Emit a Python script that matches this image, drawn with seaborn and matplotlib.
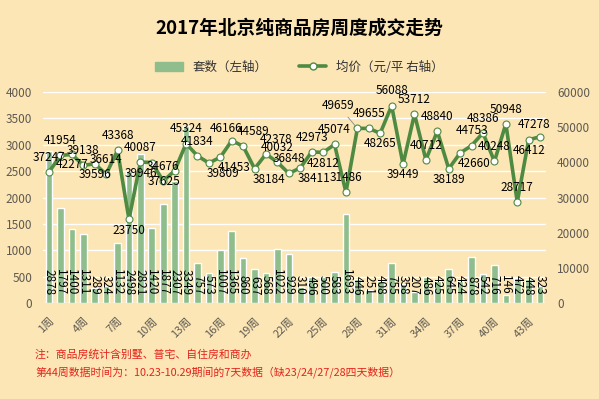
import numpy as np
import pandas as pd
import seaborn as sns
import matplotlib.pyplot as plt
from matplotlib.patches import Patch
from matplotlib.lines import Line2D

# weekly data
weeks = [f"{i}周" for i in range(1, 45)]
units = [2878, 1797, 1400, 1311, 289, 324, 1132, 2498, 2821, 1420,
         1877, 2307, 3349, 757, 573, 1007, 1365, 860, 637, 568,
         1022, 929, 310, 496, 500, 583, 1693, 446, 251, 408,
         755, 358, 207, 486, 425, 645, 424, 878, 542, 716,
         146, 472, 448, 323]
prices = [37247, 41954, 42277, 39138, 39596, 36614, 43368, 23750, 40087, 39946,
          34676, 37625, 45324, 41834, 39809, 41453, 46166, 44589, 38184, 42378,
          40032, 36848, 38411, 42973, 42812, 45074, 31486, 49659, 49655, 48265,
          56088, 39449, 53712, 40712, 48840, 38189, 42660, 44753, 48386, 40248,
          50948, 28717, 46412, 47278]

# where each price label sits relative to its point (style only)
# a above, b below, A above-left, R above-right, B below-left, C below-right, L leader
label_side = ("aababaabaB" "aBaaCCARCR" "aaCabaaLab" "abaaabCaaa" "aabA")

BG = "#FCE6B5"
BAR = "#8FBE8C"
LINE = "#4F8A42"
GRAY = "#5E5A52"
RED = "#E3231B"

sns.set_theme(style="white")
plt.rcParams["font.family"] = ["Noto Sans CJK SC", "DejaVu Sans"]
plt.rcParams["axes.unicode_minus"] = False

df = pd.DataFrame({"week": weeks, "units": units, "price": prices})

fig = plt.figure(figsize=(5.99, 3.99), dpi=100, facecolor=BG)
ax = fig.add_axes([0.0723, 0.2406, 0.8389, 0.5288])
ax.set_facecolor(BG)

sns.barplot(data=df, x="week", y="units", color=BAR, width=0.58,
            saturation=1, ax=ax, zorder=2)
ax.set_xlim(-0.5, len(weeks) - 0.5)
ax.set_ylim(0, 4000)
ax.set_yticks(range(0, 4001, 500))
ax.yaxis.grid(True, color="white", lw=1)
ax.set_axisbelow(True)
ax.set_xlabel("")
ax.set_ylabel("")
ax.set_xticks(range(0, len(weeks), 3))
ax.set_xticklabels(weeks[::3], rotation=45, ha="right", rotation_mode="anchor",
                   fontsize=8, color=GRAY)
ax.tick_params(axis="y", labelsize=8.5, labelcolor=GRAY, pad=8, length=0)
ax.tick_params(axis="x", length=0, pad=9)
for s in ax.spines.values():
    s.set_visible(False)

for p, u in zip(ax.patches, units):
    ax.text(p.get_x() + p.get_width() / 2, 150, str(u), rotation=270,
            ha="center", va="bottom", fontsize=8.5, color="black", zorder=3)

ax2 = ax.twinx()
sns.lineplot(data=df, x=df.index, y="price", ax=ax2, color=LINE, lw=2.6,
             marker="o", markersize=5, markerfacecolor="white",
             markeredgecolor=LINE, markeredgewidth=0.8, zorder=4)
ax2.set_ylim(0, 60000)
ax2.set_yticks(range(0, 60001, 10000))
ax2.set_ylabel("")
ax2.grid(False)
ax2.tick_params(axis="y", labelsize=8.5, labelcolor=GRAY, pad=8, length=0)
for s in ax2.spines.values():
    s.set_visible(False)

offsets = {"a": ((0, 6), "center", "bottom"),
           "b": ((0, -3), "center", "top"),
           "A": ((-4, 4), "center", "bottom"),
           "R": ((7, 6), "center", "bottom"),
           "B": ((-8, -3), "center", "top"),
           "C": ((10, -3), "center", "top"),
           "L": ((-14, 12), "center", "bottom")}
for i, (v, side) in enumerate(zip(prices, label_side)):
    off, ha, va = offsets[side]
    arrow = dict(arrowstyle="-", color="#888888", lw=0.6) if side == "L" else None
    ax2.annotate(str(v), (i, v), xytext=off, textcoords="offset points",
                 ha=ha, va=va, fontsize=8.5, color="black", zorder=5,
                 arrowprops=arrow)

fig.text(0.5, 1 - 28 / 399, "2017年北京纯商品房周度成交走势", ha="center",
         va="center", fontsize=13.5, fontweight="bold", color="black")

handles = [Patch(color=BAR),
           Line2D([], [], color=LINE, lw=2.6, marker="o", markersize=5,
                  markerfacecolor="white", markeredgecolor=LINE)]
fig.legend(handles, ["套数（左轴）", "均价（元/平 右轴）"], loc="center",
           bbox_to_anchor=(0.5, 1 - 67 / 399), ncol=2, frameon=False,
           fontsize=9, handlelength=2.2, columnspacing=2.5,
           labelcolor="#333333")

fig.text(35 / 599, 1 - 354 / 399, "注：商品房统计含别墅、普宅、自住房和商办",
         color=RED, fontsize=7.8, va="center")
fig.text(35 / 599, 1 - 372 / 399,
         "第44周数据时间为：10.23-10.29期间的7天数据（缺23/24/27/28四天数据）",
         color=RED, fontsize=7.8, va="center")

fig.savefig("out.png", dpi=100, facecolor=BG)
